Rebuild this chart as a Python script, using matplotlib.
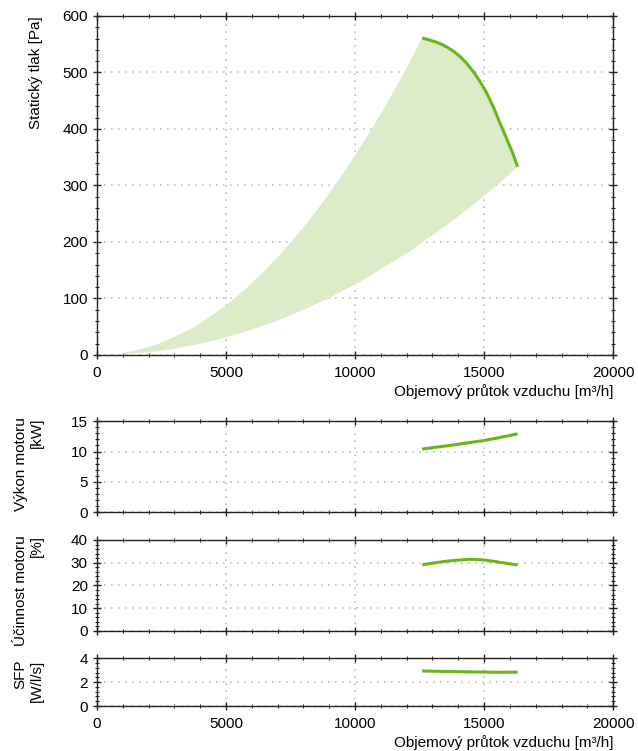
import numpy as np
import matplotlib.pyplot as plt
from matplotlib.ticker import MultipleLocator

plt.rcParams['font.family'] = ['Liberation Sans', 'DejaVu Sans']
plt.rcParams['font.size'] = 11

# fan curve (static pressure)
fan_x = [12600, 12850, 13100, 13350, 13600, 13850, 14100, 14350, 14600, 14850,
         15100, 15350, 15600, 15850, 16100, 16300]
fan_p = [561, 558, 554.5, 550, 544, 536.5, 527, 515, 500.5, 483.5,
         464, 440, 412, 385.5, 358.5, 333]

# working area boundaries
upper_x = [1000, 1500, 2000, 2500, 3000, 3500, 4000, 4500, 5000, 5500, 6000, 6500,
           7000, 7500, 8000, 8500, 9000, 9500, 10000, 10500, 11000, 11500, 12000,
           12250, 12600]
upper_p = [3.5, 8, 14, 22, 32, 43, 56, 71.5, 88, 107, 127, 149,
           173, 199, 226, 255, 286, 319, 353, 389, 427, 467, 508,
           530, 561]
lower_x = [1000, 1500, 2000, 2500, 3000, 3500, 4000, 4500, 5000, 5500, 6000, 6500,
           7000, 7500, 8000, 8500, 9000, 9500, 10000, 10500, 11000, 11500, 12000,
           12500, 13000, 13500, 14000, 14500, 15000, 15500, 16000, 16300]
lower_p = [1.3, 2.8, 5, 7.8, 11, 15.3, 20, 25.4, 31, 38, 45, 53,
           61, 70.5, 80, 90.5, 101, 113, 125, 138, 152, 166, 180,
           196, 212, 228, 246, 263, 282, 301, 321, 333]

# motor power, efficiency, SFP
power_x = [12600, 13500, 14500, 15000, 15500, 16300]
power_kw = [10.4, 10.9, 11.5, 11.8, 12.2, 12.9]
eff_x = [12600, 13000, 13500, 14000, 14500, 15000, 15500, 16000, 16300]
eff_pct = [29.1, 29.8, 30.6, 31.2, 31.5, 31.2, 30.4, 29.5, 29.0]
sfp_x = [12600, 13500, 14500, 15500, 16300]
sfp_val = [2.94, 2.90, 2.86, 2.83, 2.84]

green = '#6ab51e'
fill_green = '#dcebc8'

fig = plt.figure(figsize=(6.38, 7.51), dpi=100)
ax1 = fig.add_axes([0.152, 0.5273, 0.809, 0.4514])
ax2 = fig.add_axes([0.152, 0.3176, 0.809, 0.1218])
ax3 = fig.add_axes([0.152, 0.1598, 0.809, 0.1212])
ax4 = fig.add_axes([0.152, 0.0599, 0.809, 0.0635])


def style(ax, ymax, ymaj, ymin):
    ax.set_xlim(0, 20000)
    ax.set_ylim(0, ymax)
    ax.xaxis.set_major_locator(MultipleLocator(5000))
    ax.xaxis.set_minor_locator(MultipleLocator(1000))
    ax.yaxis.set_major_locator(MultipleLocator(ymaj))
    ax.yaxis.set_minor_locator(MultipleLocator(ymin))
    ax.grid(True, which='major', linestyle=(0, (1, 3.2)), color='#c0c0c0', linewidth=1.2)
    ax.tick_params(which='both', direction='inout', top=True, right=True,
                   colors='#222222', labelcolor='black', labelsize=11)
    ax.tick_params(which='major', length=6, width=1)
    ax.tick_params(which='minor', length=3.5, width=0.8)
    ax.tick_params(axis='x', which='major', pad=5)
    for s in ax.spines.values():
        s.set_color('#222222')
        s.set_linewidth(1.0)
    ax.set_axisbelow(True)


style(ax1, 600, 100, 20)
poly_x = upper_x + fan_x[1:] + lower_x[::-1]
poly_y = upper_p + fan_p[1:] + lower_p[::-1]
ax1.fill(poly_x, poly_y, color=fill_green, linewidth=0, zorder=1)
ax1.plot(fan_x, fan_p, color=green, linewidth=2.2, solid_capstyle='butt', zorder=3)
ax1.set_ylabel('Statický tlak [Pa]', loc='top')
ax1.set_xlabel('Objemový průtok vzduchu [m³/h]', loc='right', labelpad=3)

style(ax2, 15, 5, 1)
ax2.plot(power_x, power_kw, color=green, linewidth=2.2, solid_capstyle='butt')
ax2.set_ylabel('Výkon motoru\n[kW]', loc='top')
ax2.tick_params(labelbottom=False)

style(ax3, 40, 10, 2)
ax3.plot(eff_x, eff_pct, color=green, linewidth=2.2, solid_capstyle='butt')
ax3.set_ylabel('Účinnost motoru\n[%]', loc='top')
ax3.tick_params(labelbottom=False)

style(ax4, 4, 2, 0.4)
ax4.plot(sfp_x, sfp_val, color=green, linewidth=2.2, solid_capstyle='butt')
ax4.set_ylabel('SFP\n[W/l/s]', loc='top')
ax4.set_xlabel('Objemový průtok vzduchu [m³/h]', loc='right', labelpad=3)

ax1.yaxis.set_label_coords(-0.105, 1.0)
ax2.yaxis.set_label_coords(-0.103, 1.04)
ax3.yaxis.set_label_coords(-0.103, 1.05)
ax4.yaxis.set_label_coords(-0.103, 0.97)

fig.savefig('out.png', dpi=100)
